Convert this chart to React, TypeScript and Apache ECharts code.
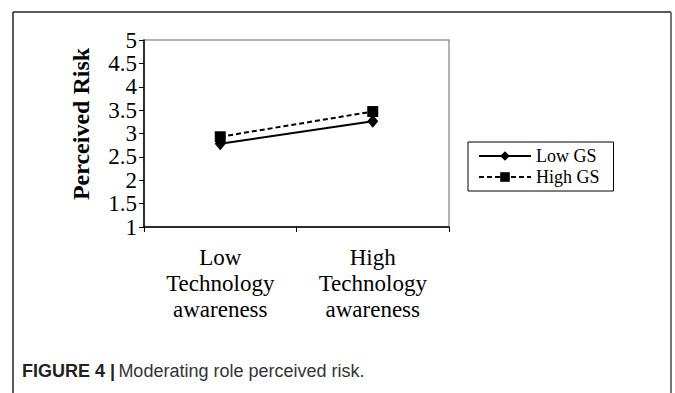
import React, { useEffect, useRef } from "react";
import * as echarts from "echarts";

const categories = ["Low\nTechnology\nawareness", "High\nTechnology\nawareness"];
const lowGS = [2.78, 3.26];
const highGS = [2.93, 3.47];
const seriesNames = ["Low GS", "High GS"];
const yMin = 1;
const yMax = 5;
const yInterval = 0.5;
const yAxisTitle = "Perceived Risk";
const captionBold = "FIGURE 4 |";
const captionText = "Moderating role perceived risk.";

const SERIF = "'Liberation Serif', 'Times New Roman', serif";
const SANS = "'Liberation Sans', Arial, sans-serif";

export default function App() {
  const ref = useRef<HTMLDivElement>(null);
  useEffect(() => {
    if (!ref.current) return;
    const chart = echarts.init(ref.current, null, { renderer: "svg" });
    chart.setOption({
      animation: false,
      backgroundColor: "#fff",
      grid: {
        left: 144,
        top: 40,
        right: 226,
        bottom: 166,
        show: true,
        borderColor: "#9a9a9a",
        borderWidth: 1.5,
      },
      xAxis: {
        type: "category",
        data: categories,
        boundaryGap: true,
        axisLine: { lineStyle: { color: "#000", width: 1.5 } },
        axisTick: { show: true, length: 5, lineStyle: { color: "#000", width: 1 } },
        axisLabel: {
          color: "#000",
          fontFamily: SERIF,
          fontSize: 23,
          lineHeight: 26,
          margin: 17,
        },
      },
      yAxis: {
        type: "value",
        min: yMin,
        max: yMax,
        interval: yInterval,
        splitLine: { show: false },
        axisLine: { show: true, lineStyle: { color: "#000", width: 1.5 } },
        axisTick: { show: true, length: 5, lineStyle: { color: "#000", width: 1 } },
        axisLabel: {
          color: "#000",
          fontFamily: SERIF,
          fontSize: 23,
          lineHeight: 21,
          margin: 7,
          showMinLabel: true,
          showMaxLabel: true,
          hideOverlap: false,
        },
      },
      legend: {
        orient: "vertical",
        left: 468,
        top: 142,
        data: seriesNames,
        itemWidth: 52,
        itemHeight: 12,
        itemGap: 3,
        padding: [5, 14, 5, 10],
        borderColor: "#000",
        borderWidth: 1,
        textStyle: { color: "#000", fontFamily: SERIF, fontSize: 18 },
      },
      series: [
        {
          name: seriesNames[0],
          type: "line",
          data: lowGS,
          symbol: "diamond",
          symbolSize: [11, 13],
          lineStyle: { color: "#000", width: 2, type: "solid" },
          itemStyle: { color: "#000" },
        },
        {
          name: seriesNames[1],
          type: "line",
          data: highGS,
          symbol: "rect",
          symbolSize: 11,
          lineStyle: { color: "#000", width: 2, type: [5, 3] },
          itemStyle: { color: "#000" },
        },
      ],
      graphic: [
        {
          type: "line",
          shape: { x1: 13, y1: 12, x2: 671, y2: 12 },
          style: { stroke: "#222", lineWidth: 1.5 },
        },
        {
          type: "line",
          shape: { x1: 13, y1: 12, x2: 13, y2: 393 },
          style: { stroke: "#222", lineWidth: 1.5 },
        },
        {
          type: "line",
          shape: { x1: 671, y1: 12, x2: 671, y2: 393 },
          style: { stroke: "#777", lineWidth: 2 },
        },
        {
          type: "text",
          x: 81,
          y: 124,
          rotation: Math.PI / 2,
          style: {
            text: yAxisTitle,
            fontFamily: SERIF,
            fontWeight: "bold",
            fontSize: 24,
            fill: "#000",
            align: "center",
            verticalAlign: "middle",
          },
        },
        {
          type: "text",
          x: 22,
          y: 371,
          style: {
            text: "{b|" + captionBold + "} {r|" + captionText + "}",
            verticalAlign: "middle",
            rich: {
              b: { fontFamily: SANS, fontWeight: "bold", fontSize: 18, fill: "#222" },
              r: { fontFamily: SANS, fontSize: 18, fill: "#333" },
            },
          },
        },
      ],
    });
    return () => chart.dispose();
  }, []);
  return (
    <div
      ref={ref}
      style={{ position: "absolute", left: 0, top: 0, width: 675, height: 393 }}
    />
  );
}
